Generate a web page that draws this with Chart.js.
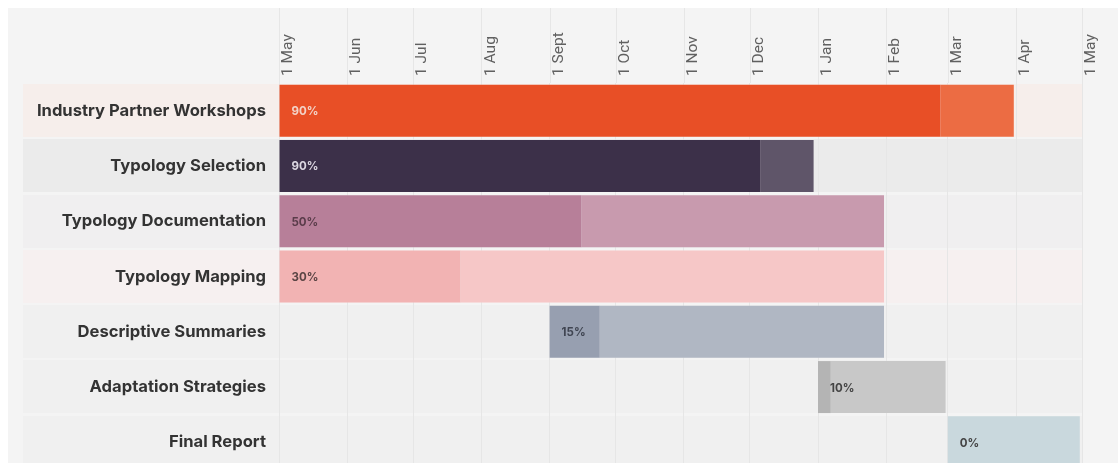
<!DOCTYPE html>
<html>
<head>
<meta charset="utf-8">
<script src="https://cdn.jsdelivr.net/npm/chart.js@4"></script>
<style>
  html, body { margin: 0; padding: 0; background: #fff; overflow: hidden; }
  #card { position: absolute; left: 8px; top: 8px; width: 1110px; height: 470px; background: #f4f4f4; }
  canvas { display: block; }
</style>
</head>
<body>
<div id="card"><canvas id="gantt" width="1110" height="462" style="width:1110px;height:462px"></canvas></div>
<script>
// tasks and schedule, in days counted from 1 May
var taskNames = ['Industry Partner Workshops', 'Typology Selection', 'Typology Documentation',
    'Typology Mapping', 'Descriptive Summaries', 'Adaptation Strategies', 'Final Report'];
var startDay = [0, 0, 0, 0, 123, 245, 304];
var endDay = [334, 243, 275, 275, 275, 303, 364];
var progress = [90, 90, 50, 30, 15, 10, 0];

// month ticks (day offset of each 1st) and their labels
var monthDays = [0, 31, 61, 92, 123, 153, 184, 214, 245, 276, 304, 335, 365];
var monthLabels = ['1 May', '1 Jun', '1 Jul', '1 Aug', '1 Sept', '1 Oct', '1 Nov',
    '1 Dec', '1 Jan', '1 Feb', '1 Mar', '1 Apr', '1 May'];

// colours per row
var doneColor = ['#e84f26', '#3c3049', '#b77f99', '#f2b3b3', '#979fb0', '#b4b4b4', '#c9d8dd'];
var restColor = ['#ec6c43', '#5f5569', '#c89aae', '#f6c7c7', '#b0b7c3', '#c8c8c8', '#c9d8dd'];
var rowTint = ['#f6eeeb', '#ebebeb', '#f0eff0', '#f6f0f0', '#f0f0f0', '#f0f0f0', '#f0f0f0'];
var pctColor = ['#f3d3c8', '#ddd8e2', '#5a3c4a', '#5a4444', '#404552', '#444', '#444'];

var doneData = [], restData = [];
for (var i = 0; i < taskNames.length; i++) {
    var mid = startDay[i] + (endDay[i] - startDay[i]) * progress[i] / 100;
    doneData.push([startDay[i], mid]);
    restData.push([mid, endDay[i]]);
}

var rowBands = {
    id: 'rowBands',
    beforeDraw: function(chart) {
        var ctx = chart.ctx, x = chart.scales.x, y = chart.scales.y;
        var step = y.getPixelForValue(1) - y.getPixelForValue(0);
        ctx.save();
        taskNames.forEach(function(t, i) {
            var cy = y.getPixelForValue(i);
            ctx.fillStyle = rowTint[i];
            ctx.fillRect(15, Math.round(cy - step / 2) + 1, x.right - 15, Math.round(step) - 2);
        });
        // grid lines running up through the month labels
        ctx.strokeStyle = '#e6e6e6';
        ctx.lineWidth = 1;
        x.ticks.forEach(function(t) {
            var px = Math.round(x.getPixelForValue(t.value)) + 0.5;
            ctx.beginPath();
            ctx.moveTo(px, 0);
            ctx.lineTo(px, chart.chartArea.top);
            ctx.stroke();
        });
        ctx.restore();
    }
};

var pctLabels = {
    id: 'pctLabels',
    afterDatasetsDraw: function(chart) {
        var ctx = chart.ctx;
        var meta = chart.getDatasetMeta(0);
        ctx.save();
        ctx.font = 'bold 11.5px Inter, sans-serif';
        ctx.textBaseline = 'middle';
        ctx.textAlign = 'left';
        meta.data.forEach(function(bar, i) {
            var left = Math.min(bar.x, bar.base);
            ctx.fillStyle = pctColor[i];
            ctx.fillText(progress[i] + '%', left + 12, bar.y + 1);
        });
        ctx.restore();
    }
};

var chart = new Chart(document.getElementById('gantt').getContext('2d'), {
    type: 'bar',
    data: {
        labels: taskNames,
        datasets: [
            { label: 'Done', data: doneData, backgroundColor: doneColor },
            { label: 'Remaining', data: restData, backgroundColor: restColor }
        ]
    },
    options: {
        indexAxis: 'y',
        responsive: false,
        animation: false,
        layout: { padding: { left: 0, right: 36, top: 0, bottom: 0 } },
        datasets: {
            bar: { grouped: false, barPercentage: 0.94, categoryPercentage: 1, borderWidth: 0 }
        },
        plugins: {
            legend: { display: false },
            tooltip: { enabled: false }
        },
        scales: {
            x: {
                type: 'linear',
                position: 'top',
                min: 0,
                max: 365,
                afterBuildTicks: function(scale) {
                    scale.ticks = monthDays.map(function(d) { return { value: d }; });
                },
                afterFit: function(scale) { scale.height = 75; },
                grid: { color: '#e6e6e6', drawTicks: false },
                border: { display: false },
                ticks: {
                    autoSkip: false,
                    maxRotation: 90,
                    minRotation: 90,
                    padding: 7,
                    labelOffset: 28,
                    color: '#606060',
                    font: { family: 'Roboto', size: 15.5 },
                    callback: function(v, i) { return monthLabels[i]; }
                }
            },
            y: {
                afterFit: function(scale) {
                    scale.width = 271;
                    scale.paddingTop = 0;
                    scale.paddingBottom = 0;
                },
                grid: { display: false, drawTicks: false },
                border: { display: false },
                ticks: {
                    padding: 13,
                    color: '#333',
                    font: { family: 'Inter', size: 16.6, weight: 'bold' }
                }
            }
        }
    },
    plugins: [rowBands, pctLabels]
});
</script>
</body>
</html>
